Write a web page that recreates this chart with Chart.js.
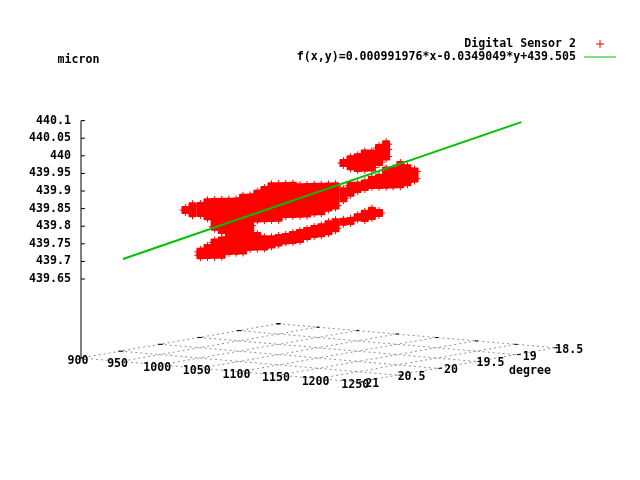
<!DOCTYPE html>
<html>
<head>
<meta charset="utf-8">
<style>
  body { margin: 0; background: #fff; }
</style>
<script src="https://cdn.jsdelivr.net/npm/chart.js@4/dist/chart.umd.min.js"></script>
</head>
<body>
<canvas id="plot" width="640" height="480"></canvas>
<script>
const tempTicks = [900, 950, 1000, 1050, 1100, 1150, 1200, 1250];
const degreeTicks = [18.5, 19, 19.5, 20, 20.5, 21];
const micronTicks = [439.65, 439.7, 439.75, 439.8, 439.85, 439.9, 439.95, 440, 440.05, 440.1];
const seriesName = 'Digital Sensor 2';
const fitName = 'f(x,y)=0.000991976*x-0.0349049*y+439.505';

// fit line ends
const fitTemps = [949, 1227];
const fitDegrees = [20.96, 18.7];
const fitMicrons = [439.715, 440.07];

// sensor readings, one column of microns for each temperature / degree pair
const sensorTemps = [995, 1000, 1005, 1010, 1015, 1020, 1025, 1030, 1035, 1040, 1045, 1050, 1055, 1060, 1065, 1070, 1075, 1080, 1085, 1090, 1095, 1100, 1105, 1110, 1115, 1120, 1125, 1130, 1135, 1140, 1145, 1150, 1155];
const sensorDegrees = [20.63, 20.59, 20.54, 20.5, 20.46, 20.42, 20.38, 20.34, 20.3, 20.26, 20.22, 20.18, 20.14, 20.1, 20.06, 20.02, 19.98, 19.94, 19.9, 19.86, 19.82, 19.78, 19.73, 19.69, 19.65, 19.61, 19.57, 19.53, 19.49, 19.45, 19.41, 19.37, 19.33];
const sensorMicrons = [
  [439.85],
  [439.84, 439.86],
  [439.72, 439.73, 439.84, 439.86],
  [439.72, 439.74, 439.83, 439.85, 439.87],
  [439.72, 439.74, 439.755, 439.8, 439.82, 439.84, 439.86, 439.87],
  [439.72, 439.74, 439.76, 439.79, 439.81, 439.83, 439.85, 439.87],
  [439.73, 439.75, 439.77, 439.79, 439.81, 439.83, 439.85, 439.87],
  [439.73, 439.75, 439.77, 439.79, 439.81, 439.83, 439.85, 439.87],
  [439.73, 439.75, 439.77, 439.79, 439.81, 439.83, 439.85, 439.87, 439.88],
  [439.74, 439.76, 439.78, 439.8, 439.82, 439.84, 439.86, 439.88],
  [439.74, 439.76, 439.77, 439.82, 439.84, 439.86, 439.88, 439.89],
  [439.74, 439.76, 439.82, 439.84, 439.86, 439.88, 439.9],
  [439.745, 439.76, 439.82, 439.84, 439.86, 439.88, 439.9, 439.91],
  [439.75, 439.763, 439.82, 439.84, 439.86, 439.88, 439.9, 439.91],
  [439.755, 439.765, 439.83, 439.85, 439.87, 439.89, 439.91],
  [439.756, 439.77, 439.83, 439.85, 439.87, 439.89, 439.91],
  [439.758, 439.775, 439.83, 439.85, 439.87, 439.89, 439.905],
  [439.766, 439.78, 439.83, 439.85, 439.87, 439.89, 439.905],
  [439.771, 439.785, 439.835, 439.855, 439.875, 439.895, 439.905],
  [439.773, 439.79, 439.835, 439.855, 439.875, 439.895, 439.905],
  [439.778, 439.798, 439.845, 439.865, 439.885, 439.905],
  [439.786, 439.803, 439.85, 439.87, 439.89, 439.905],
  [439.803, 439.87, 439.89, 439.97],
  [439.805, 439.885, 439.905, 439.96, 439.98],
  [439.815, 439.895, 439.905, 439.955, 439.975, 439.985],
  [439.812, 439.824, 439.9, 439.91, 439.955, 439.975, 439.995],
  [439.817, 439.832, 439.905, 439.92, 439.955, 439.975, 439.995],
  [439.825, 439.905, 439.925, 439.97, 439.99, 440.01],
  [439.905, 439.925, 439.945, 439.985, 440.005, 440.02],
  [439.905, 439.925, 439.945],
  [439.905, 439.925, 439.945, 439.96],
  [439.91, 439.93, 439.95],
  [439.92, 439.94]
];

// view of the 3d box on the page
const corner = { x: 81, y: 358 };
const perTemp = { x: 0.792, y: 0.0686 };
const perDegree = { x: 78.8, y: 13.7 };
const perMicron = 352;
const floorMicron = 439.4256;

function project(temp, degree, micron) {
    const u = temp - 900;
    const v = 21 - degree;
    return {
        x: corner.x + u * perTemp.x + v * perDegree.x,
        y: corner.y + u * perTemp.y - v * perDegree.y - (micron - floorMicron) * perMicron
    };
}

const sensorPoints = [];
sensorTemps.forEach((t, i) => {
    sensorMicrons[i].forEach(m => sensorPoints.push(project(t, sensorDegrees[i], m)));
});
const fitPoints = fitTemps.map((t, i) => project(t, fitDegrees[i], fitMicrons[i]));

const labelFont = 'bold 11.6px "DejaVu Sans Mono"';

// box, ticks, labels and key: gnuplot look, not available from the stock axes
const boxPlugin = {
    id: 'box',
    beforeDatasetsDraw(chart) {
        const c = chart.ctx;
        const sx = chart.scales.x, sy = chart.scales.y;
        const at = (t, d, m) => {
            const p = project(t, d, m);
            return { x: sx.getPixelForValue(p.x), y: sy.getPixelForValue(p.y) };
        };
        const seg = (a, b) => {
            c.beginPath();
            c.moveTo(a.x, a.y);
            c.lineTo(b.x, b.y);
            c.stroke();
        };
        const tMin = tempTicks[0], tMax = tempTicks[tempTicks.length - 1];
        const dMin = degreeTicks[0], dMax = degreeTicks[degreeTicks.length - 1];

        c.save();
        // floor grid
        c.strokeStyle = '#909090';
        c.lineWidth = 1;
        c.setLineDash([2, 3]);
        tempTicks.forEach(t => seg(at(t, dMin, floorMicron), at(t, dMax, floorMicron)));
        degreeTicks.forEach(d => seg(at(tMin, d, floorMicron), at(tMax, d, floorMicron)));
        c.setLineDash([]);

        // micron axis
        c.strokeStyle = '#000';
        const top = micronTicks[micronTicks.length - 1];
        seg(at(tMin, dMax, floorMicron), at(tMin, dMax, top));
        c.font = labelFont;
        c.fillStyle = '#000';
        c.textBaseline = 'middle';
        c.textAlign = 'right';
        micronTicks.forEach(m => {
            const p = at(tMin, dMax, m);
            seg(p, { x: p.x + 4, y: p.y });
            c.fillText(String(m), p.x - 10, p.y);
        });

        // short ticks on the floor edges
        tempTicks.forEach(t => {
            const p = at(t, dMin, floorMicron);
            seg({ x: p.x - 1, y: p.y }, { x: p.x + 2, y: p.y });
        });
        degreeTicks.forEach(d => {
            const p = at(tMin, d, floorMicron);
            seg({ x: p.x - 2, y: p.y }, { x: p.x + 3, y: p.y });
            const q = at(tMax, d, floorMicron);
            seg({ x: q.x + 1, y: q.y }, { x: q.x + 5, y: q.y });
        });

        // floor labels
        c.textAlign = 'center';
        tempTicks.forEach(t => {
            const p = at(t, dMax, floorMicron);
            c.fillText(String(t), p.x - 3, p.y + 3);
        });
        degreeTicks.forEach(d => {
            const p = at(tMax, d, floorMicron);
            c.fillText(String(d), p.x + 14, p.y + 2);
        });
        c.fillText('degree', 530, 371);
        c.fillText('micron', 78.5, 60);

        // key
        c.textAlign = 'right';
        c.fillText(seriesName, 576, 44);
        c.fillText(fitName, 576, 57);
        c.strokeStyle = '#ff0000';
        seg({ x: 596, y: 44 }, { x: 604, y: 44 });
        seg({ x: 600, y: 40 }, { x: 600, y: 48 });
        c.strokeStyle = '#00c000';
        seg({ x: 584, y: 57 }, { x: 616, y: 57 });
        c.restore();
    }
};

new Chart(document.getElementById('plot').getContext('2d'), {
    type: 'scatter',
    data: {
        datasets: [
            {
                label: fitName,
                data: fitPoints,
                showLine: true,
                borderColor: '#00c000',
                borderWidth: 2,
                pointRadius: 0,
                order: 0
            },
            {
                label: seriesName,
                data: sensorPoints,
                pointStyle: 'cross',
                pointRadius: 6,
                pointBorderWidth: 1,
                pointBorderColor: '#ff0000',
                order: 1
            },
            {
                label: seriesName,
                data: sensorPoints,
                pointStyle: 'cross',
                pointRadius: 4,
                pointBorderWidth: 7,
                pointBorderColor: '#ff0000',
                order: 2
            }
        ]
    },
    options: {
        responsive: false,
        animation: false,
        layout: { padding: 0, autoPadding: false },
        plugins: { legend: { display: false }, tooltip: { enabled: false } },
        scales: {
            x: { type: 'linear', display: false, min: 0, max: 640 },
            y: { type: 'linear', display: false, min: 0, max: 480, reverse: true }
        }
    },
    plugins: [boxPlugin]
});
</script>
</body>
</html>
